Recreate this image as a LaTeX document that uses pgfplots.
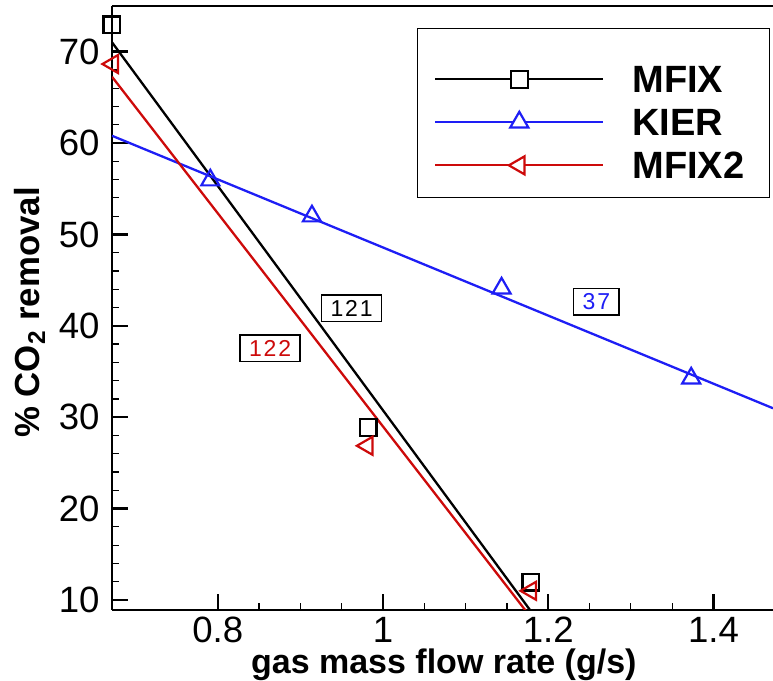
\documentclass[border=0pt]{standalone}
\usepackage{pgfplots}
\pgfplotsset{compat=1.18}
\usepackage{fontspec}
\setmainfont{Liberation Sans}
\definecolor{kblue}{RGB}{30,30,245}
\definecolor{kred}{RGB}{205,10,10}
\begin{document}
\begin{tikzpicture}
\begin{axis}[
  at={(0pt,0pt)}, anchor=south west,
  scale only axis, width=330.5pt, height=302pt,
  xmin=0.672, xmax=1.472, ymin=8.9, ymax=75,
  axis x line*=box, axis y line*=left,
  xtick pos=left, ytick pos=left,
  xtick={0.8,1,1.2,1.4}, ytick={10,20,...,70},
  minor x tick num=3, minor y tick num=4,
  tick align=inside,
  major tick length=8pt, minor tick length=3.5pt,
  every major tick/.append style={line width=1.2pt, black},
  every minor tick/.append style={line width=0.6pt, black},
  axis line style={line width=1.15pt},
  clip mode=individual,
  /pgf/number format/assume math mode=true,
  tick label style={font=\fontsize{18.3}{20}\selectfont},
  xticklabel style={inner sep=0pt, yshift=-3pt, text height=13pt, text depth=0pt},
  yticklabel style={inner sep=0pt, xshift=-6pt},
  xlabel={gas mass flow rate (g/s)},
  ylabel={\% CO\textsubscript{2} removal},
  label style={font=\fontsize{17.4}{20}\selectfont\bfseries},
  xlabel style={font=\fontsize{17}{20}\selectfont\bfseries, at={([yshift=-31.9pt]axis description cs:0.502,0)}, anchor=base, inner sep=0pt, text height=12.5pt, text depth=3.6pt},
  ylabel style={at={([xshift=-36pt]axis description cs:0,0.4925)}, anchor=base},
  legend cell align=left,
  legend style={at={(axis description cs:0.9955,0.9636)}, anchor=north east,
    draw=black, line width=0.7pt, fill=white,
    inner xsep=8.5pt, inner ysep=9.35pt, row sep=8.4pt, column sep=14pt,
    font=\fontsize{19}{19}\selectfont\bfseries,
    nodes={inner sep=0pt, text depth=0pt}},
  legend image code/.code={\draw[mark repeat=2,mark phase=2] plot coordinates {(0pt,0pt) (42pt,0pt) (84pt,0pt)};},
]
\addlegendimage{empty legend}
\addlegendentry{}
\addlegendimage{black, line width=1.1pt, mark=square*, mark size=4.2pt, mark options={fill=white}}
\addlegendentry{MFIX}
\addlegendimage{kblue, line width=1.1pt, mark=triangle*, mark size=5.2pt, mark options={fill=white}}
\addlegendentry{KIER}
\addlegendimage{kred, line width=1.1pt, mark=triangle*, mark size=5.2pt, mark options={fill=white, rotate=90}}
\addlegendentry{MFIX2\hspace*{4pt}}

% fitted lines
\addplot[black, line width=1.15pt, forget plot] coordinates {(0.672,71.03) (1.2,6.19)};
\addplot[kblue, line width=1.15pt, forget plot] coordinates {(0.672,60.8) (1.472,30.98)};
\addplot[kred, line width=1.15pt, forget plot] coordinates {(0.672,67.26) (1.2,5.64)};

% data markers
\addplot[only marks, black, mark=square, mark size=4.2pt, mark options={line width=1.1pt}, forget plot]
  coordinates {(0.672,72.94) (0.982,28.86) (1.179,11.95)};
\addplot[only marks, kblue, mark=triangle, mark size=5.2pt, mark options={line width=1.1pt}, forget plot]
  coordinates {(0.791,55.94) (0.914,52.0) (1.1435,44.11) (1.373,34.26)};
\addplot[only marks, kred, mark=triangle, mark size=5.2pt, mark options={line width=1.1pt, rotate=90}, forget plot]
  coordinates {(0.673,68.65) (0.981,26.87) (1.179,11.0)};

\node[draw=black, line width=0.7pt, text=black, font=\fontsize{11.5}{12}\selectfont\addfontfeature{LetterSpace=8}, inner xsep=4.5pt, inner ysep=2.5pt, text height=8.2pt, text depth=0pt, fill=white] at (axis cs:0.962,41.92) {121};
\node[draw=black, line width=0.7pt, text=kred, font=\fontsize{11.5}{12}\selectfont\addfontfeature{LetterSpace=8}, inner xsep=4.5pt, inner ysep=2.5pt, text height=8.2pt, text depth=0pt, fill=white] at (axis cs:0.8633,37.54) {122};
\node[draw=black, line width=0.7pt, text=kblue, font=\fontsize{11.5}{12}\selectfont\addfontfeature{LetterSpace=8}, inner xsep=4.5pt, inner ysep=2.5pt, text height=8.2pt, text depth=0pt, fill=white] at (axis cs:1.2583,42.64) {37};
\end{axis}
\pgfresetboundingbox
\path[use as bounding box] (-56pt,-35.5pt) rectangle (330.5pt,305pt);
\end{tikzpicture}
\end{document}
